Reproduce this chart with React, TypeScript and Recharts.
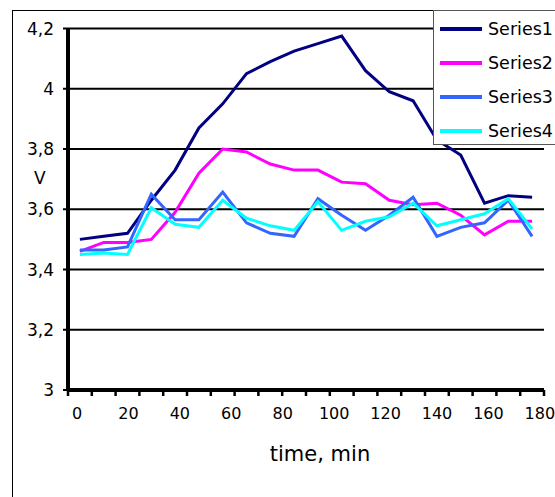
import React from 'react';
import { LineChart, Line, XAxis, YAxis, CartesianGrid, Legend } from 'recharts';

const sampleIndex = [0, 1, 2, 3, 4, 5, 6, 7, 8, 9, 10, 11, 12, 13, 14, 15, 16, 17, 18, 19];
const series1 = [3.5, 3.51, 3.52, 3.63, 3.73, 3.87, 3.95, 4.05, 4.09, 4.125, 4.15, 4.175, 4.06, 3.99, 3.96, 3.83, 3.78, 3.62, 3.645, 3.64];
const series2 = [3.46, 3.49, 3.49, 3.5, 3.59, 3.72, 3.8, 3.79, 3.75, 3.73, 3.73, 3.69, 3.685, 3.63, 3.615, 3.62, 3.58, 3.515, 3.56, 3.56];
const series3 = [3.465, 3.465, 3.475, 3.65, 3.565, 3.565, 3.657, 3.555, 3.52, 3.51, 3.635, 3.58, 3.53, 3.58, 3.64, 3.51, 3.54, 3.555, 3.63, 3.51];
const series4 = [3.45, 3.455, 3.45, 3.605, 3.55, 3.54, 3.63, 3.57, 3.545, 3.53, 3.625, 3.53, 3.56, 3.575, 3.62, 3.545, 3.565, 3.585, 3.635, 3.535];
const seriesNames = ['Series1', 'Series2', 'Series3', 'Series4'];
const seriesColors = ['#000080', '#FF00FF', '#3366FF', '#00FFFF'];
const timeTicks = [0, 20, 40, 60, 80, 100, 120, 140, 160, 180];
const voltTicks = [3, 3.2, 3.4, 3.6, 3.8, 4, 4.2];

const allSeries = [series1, series2, series3, series4];
const data = sampleIndex.map((i, k) => ({
  idx: i,
  s0: series1[k],
  s1: series2[k],
  s2: series3[k],
  s3: series4[k],
}));
const bandTicks = sampleIndex.map((i) => i - 0.5).concat([sampleIndex[sampleIndex.length - 1] + 0.5]);

const FONT = '"DejaVu Sans", sans-serif';

const fmtVolt = (v: number) => (Number.isInteger(v) ? String(v) : v.toFixed(1).replace('.', ','));

// tick mark drawn below the axis for every band boundary
const BandTick = (props: any) => {
  const { x, y } = props;
  return <line x1={x} x2={x} y1={y} y2={y + 6} stroke="#000" strokeWidth={2.5} />;
};

const LegendBox = (props: any) => {
  const payload = props.payload || [];
  return (
    <div
      style={{
        width: 140,
        height: 135,
        border: '1px solid #555',
        background: '#fff',
        boxSizing: 'border-box',
        paddingTop: 1,
        fontFamily: FONT,
        fontSize: 17.5,
        color: '#000',
      }}
    >
      {payload.map((p: any) => (
        <div key={p.value} style={{ height: 34, display: 'flex', alignItems: 'center' }}>
          <div style={{ width: 42, height: 4, background: p.color, marginLeft: 6, marginRight: 6 }} />
          <span style={{ whiteSpace: 'nowrap' }}>{p.value}</span>
        </div>
      ))}
    </div>
  );
};

export default function App() {
  return (
    <div
      style={{
        position: 'absolute',
        left: 0,
        top: 0,
        width: 555,
        height: 497,
        overflow: 'hidden',
        background: '#fff',
      }}
    >
      <div
        style={{
          position: 'absolute',
          left: 12,
          top: 10,
          width: 700,
          height: 700,
          border: '1px solid #000',
        }}
      />
      <div style={{ position: 'absolute', left: 0, top: 0 }}>
        <LineChart
          width={555}
          height={497}
          data={data}
          margin={{ top: 28.5, right: 11, bottom: 0, left: 0 }}
          style={{ fontFamily: FONT }}
        >
          <CartesianGrid xAxisId="idx" vertical={false} stroke="#000" strokeWidth={2} strokeOpacity={1} />
          <XAxis
            xAxisId="idx"
            dataKey="idx"
            type="number"
            domain={[-0.5, 19.5]}
            ticks={bandTicks}
            interval={0}
            tick={<BandTick />}
            tickLine={false}
            tickSize={0}
            tickMargin={0}
            axisLine={{ stroke: '#000', strokeWidth: 4 }}
            height={8}
            allowDataOverflow
          />
          <XAxis
            xAxisId="time"
            dataKey="time"
            type="number"
            domain={[-3.5, 181.6]}
            allowDataOverflow
            ticks={timeTicks}
            interval={0}
            axisLine={false}
            tickLine={false}
            tickSize={6}
            tickMargin={4}
            height={99}
            tick={{ fill: '#000', fontSize: 16, fontFamily: FONT }}
            label={{ value: 'time, min', position: 'insideTop', offset: 48, dx: 14, fill: '#000', fontSize: 21, fontFamily: FONT }}
          />
          <YAxis
            type="number"
            domain={[3, 4.2]}
            ticks={voltTicks}
            interval={0}
            allowDataOverflow
            width={68}
            tickFormatter={fmtVolt}
            tick={{ fill: '#000', fontSize: 17, fontFamily: FONT }}
            tickLine={{ stroke: '#000', strokeWidth: 2 }}
            tickSize={5}
            tickMargin={9}
            axisLine={{ stroke: '#000', strokeWidth: 4 }}
            label={{ value: 'V', position: 'insideLeft', offset: 34, dy: -31, fill: '#000', fontSize: 17, fontFamily: FONT }}
          />
          {allSeries.map((_, k) => (
            <Line
              key={seriesNames[k]}
              xAxisId="idx"
              dataKey={'s' + k}
              name={seriesNames[k]}
              stroke={seriesColors[k]}
              strokeWidth={3}
              dot={false}
              activeDot={false}
              isAnimationActive={false}
              strokeLinejoin="miter"
            />
          ))}
          <Legend
            layout="vertical"
            align="center"
            verticalAlign="middle"
            content={<LegendBox />}
            wrapperStyle={{ left: 433, top: 10, width: 140, margin: 0, padding: 0 }}
          />
        </LineChart>
      </div>
    </div>
  );
}
